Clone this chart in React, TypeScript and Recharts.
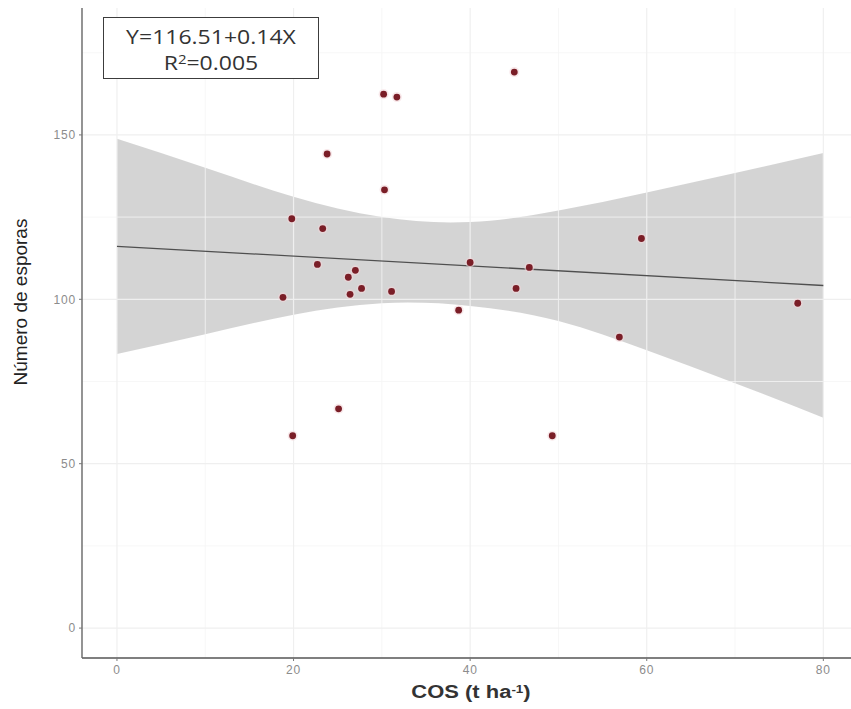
import React from "react";
import { ComposedChart, XAxis, YAxis, Area, Line, Scatter, ReferenceLine } from "recharts";

// Observed points: COS (t ha-1) vs number of spores
const cosValues = [18.8, 19.8, 19.9, 22.7, 23.3, 23.8, 25.1, 26.2, 26.4, 27.0, 27.7, 30.2, 30.3, 31.1, 31.7, 38.7, 40.0, 45.0, 45.2, 46.7, 49.3, 56.9, 59.4, 77.1];
const sporeValues = [100.6, 124.5, 58.5, 110.6, 121.5, 144.2, 66.7, 106.7, 101.5, 108.8, 103.3, 162.4, 133.3, 102.4, 161.5, 96.7, 111.2, 169.1, 103.3, 109.7, 58.5, 88.5, 118.5, 98.8];

// Confidence band
const bandX = [0, 10, 20, 30, 40, 50, 60, 70, 80];
const bandLower = [83.4, 89.4, 95.3, 98.8, 98.0, 93.4, 84.5, 74.5, 64.0];
const bandUpper = [148.8, 140.0, 131.2, 125.0, 123.5, 127.0, 132.5, 138.4, 144.5];

// Fitted line
const fitX = [0, 80];
const fitY = [116.1, 104.2];

// Axes
const xTicks = [0, 20, 40, 60, 80];
const yTicks = [0, 50, 100, 150];
const xMinor = [10, 30, 50, 70];
const yMinor = [25, 75, 125, 175];

const pointData = cosValues.map((x, i) => ({ x, y: sporeValues[i] }));
const bandData = bandX.map((x, i) => ({ x, band: [bandLower[i], bandUpper[i]] }));
const fitData = fitX.map((x, i) => ({ x, fit: fitY[i] }));

const FONT = '"Liberation Sans", Arial, Helvetica, sans-serif';

const Dot = (props: any) => {
  const { cx, cy } = props;
  if (cx == null || cy == null) return null;
  return (
    <g>
      <circle cx={cx} cy={cy} r={5} fill="#f3d6d9" opacity={0.55} />
      <circle cx={cx} cy={cy} r={3.4} fill="#7a1e27" />
    </g>
  );
};

const tickStyle = { fill: "#8c8c8c", fontSize: 12, fontFamily: FONT, letterSpacing: 0.8 };

export default function App() {
  return (
    <div
      style={{
        position: "absolute",
        left: 0,
        top: 0,
        width: 851,
        height: 709,
        overflow: "hidden",
        background: "#ffffff",
        fontFamily: FONT,
      }}
    >
      <ComposedChart width={859} height={709} margin={{ top: 8, right: 0, bottom: 0, left: 0 }}>
        {xMinor.map((v) => (
          <ReferenceLine key={"xm" + v} x={v} stroke="#f5f5f5" strokeWidth={0.8} />
        ))}
        {yMinor.map((v) => (
          <ReferenceLine key={"ym" + v} y={v} stroke="#f5f5f5" strokeWidth={0.8} />
        ))}
        {xTicks.map((v) => (
          <ReferenceLine key={"xg" + v} x={v} stroke="#efefef" strokeWidth={1.2} />
        ))}
        {yTicks.map((v) => (
          <ReferenceLine key={"yg" + v} y={v} stroke="#efefef" strokeWidth={1.2} />
        ))}
        <XAxis
          type="number"
          dataKey="x"
          domain={[-3.96, 84.04]}
          ticks={xTicks}
          allowDataOverflow
          height={51}
          tick={tickStyle}
          tickLine={{ stroke: "#777" }}
          axisLine={{ stroke: "#555", strokeWidth: 1.4 }}
          tickSize={3}
          tickMargin={4}
        />
        <XAxis
          xAxisId="top"
          orientation="top"
          type="number"
          domain={[-3.96, 84.04]}
          height={0}
          tick={false}
          tickLine={false}
          axisLine={{ stroke: "#a8a8a8", strokeWidth: 1.4 }}
        />
        <YAxis
          type="number"
          domain={[-9.1, 188.6]}
          ticks={yTicks}
          allowDataOverflow
          width={82}
          tick={tickStyle}
          tickLine={{ stroke: "#777" }}
          axisLine={{ stroke: "#666", strokeWidth: 1.4 }}
          tickSize={3}
          tickMargin={3}
        />
        <Area
          data={bandData}
          dataKey="band"
          type="natural"
          stroke="none"
          fill="#999999"
          fillOpacity={0.42}
          isAnimationActive={false}
        />
        <Line
          data={fitData}
          dataKey="fit"
          type="linear"
          stroke="#4f4f4f"
          strokeWidth={1.3}
          dot={false}
          activeDot={false}
          isAnimationActive={false}
        />
        <Scatter data={pointData} dataKey="y" shape={Dot} isAnimationActive={false} />
      </ComposedChart>

      <div
        style={{
          position: "absolute",
          left: 103,
          top: 17,
          width: 216,
          height: 62,
          border: "1.5px solid #3c3c3c",
          boxSizing: "border-box",
          background: "#fff",
          color: "#333",
          fontFamily: '"Open Sans", "DejaVu Sans", sans-serif',
          fontSize: 20,
          textAlign: "center",
          lineHeight: "26px",
          paddingTop: 6,
        }}
      >
        <div style={{ transform: "scaleX(1.15)" }}>Y=116.51+0.14X</div>
        <div style={{ transform: "scaleX(1.15)" }}>
          R<sup style={{ fontSize: 13, verticalAlign: "top", lineHeight: "18px" }}>2</sup>=0.005
        </div>
      </div>

      <div
        style={{
          position: "absolute",
          left: 21,
          top: 302,
          transform: "translate(-50%, -50%) rotate(-90deg)",
          whiteSpace: "nowrap",
          fontFamily: FONT,
          fontSize: 19,
          color: "#222",
        }}
      >
        Número de esporas
      </div>

      <div
        style={{
          position: "absolute",
          left: 471,
          top: 692,
          transform: "translate(-50%, -50%) scaleX(1.22)",
          whiteSpace: "nowrap",
          fontFamily: FONT,
          fontSize: 18,
          fontWeight: "bold",
          color: "#333",
        }}
      >
        COS (t ha<sup style={{ fontSize: 11, verticalAlign: "top", lineHeight: "14px" }}>-1</sup>)
      </div>
    </div>
  );
}
